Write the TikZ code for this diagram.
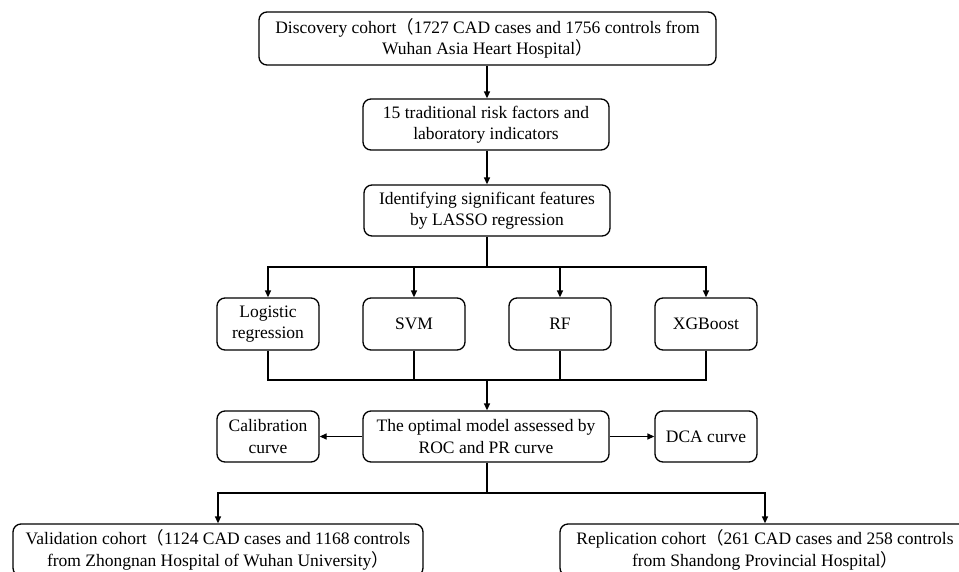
\documentclass[tikz,border=0pt]{standalone}
\usepackage{fontspec}
\setmainfont{Liberation Serif}
\newfontfamily\cjk{Noto Sans CJK SC}
\usetikzlibrary{arrows.meta}
\newcommand{\lp}{{\cjk （}}
\newcommand{\rp}{{\cjk ）}}
\begin{document}
\begin{tikzpicture}[x=1pt,y=-1pt,
  box/.style={draw, line width=1.3pt, rounded corners=8pt, align=center, inner sep=0pt,
    font=\fontsize{17.5}{21.5}\selectfont},
  wide/.style={box, minimum width=246pt, minimum height=51pt},
  small/.style={box, minimum width=102pt, minimum height=52pt},
  arr/.style={-{Triangle[length=7pt,width=6pt]}, line width=1.3pt},
  ln/.style={line width=1.3pt}]
\useasboundingbox (0,0) rectangle (959,571);
\clip (0,0) rectangle (959,571);
\node[box, minimum width=457pt, minimum height=53pt] (top) at (487.5,38.5)
  {Discovery cohort\lp1727 CAD cases and 1756 controls from\\Wuhan Asia Heart Hospital\rp};
\node[wide] (b2) at (486,124.5) {15 traditional risk factors and\\laboratory indicators};
\node[wide] (b3) at (487,210.5) {Identifying significant features\\by LASSO regression};
\node[small] (lr) at (268,324) {Logistic\\regression};
\node[small] (svm) at (414,324) {SVM};
\node[small] (rf) at (560,324) {RF};
\node[small] (xgb) at (706,324) {XGBoost};
\node[wide] (opt) at (486,436.5) {The optimal model assessed by\\ROC and PR curve};
\node[small, minimum height=51pt] (cal) at (268,436.5) {Calibration\\curve};
\node[small, minimum height=51pt] (dca) at (706,436.5) {DCA curve};
\node[box, minimum width=410pt, minimum height=52pt] (val) at (218,550)
  {Validation cohort\lp1124 CAD cases and 1168 controls\\from Zhongnan Hospital of Wuhan University\rp};
\node[box, minimum width=410pt, minimum height=52pt] (rep) at (765,550)
  {Replication cohort\lp261 CAD cases and 258 controls\\from Shandong Provincial Hospital\rp};
\coordinate (br) at (487,267);
\coordinate (mg) at (487,380);
\coordinate (bb) at (487,493);
\draw[arr] (top.south -| 487,0) -- (b2.north -| 487,0);
\draw[arr] (b2.south -| 487,0) -- (b3.north -| 487,0);
\draw[ln] (b3.south -| br) -- (br);
\foreach \n in {lr,svm,rf,xgb} {\draw[arr] (br) -| (\n.north);}
\foreach \n in {lr,svm,rf,xgb} {\draw[ln] (\n.south) |- (mg);}
\draw[arr] (mg) -- (opt.north -| mg);
\draw[arr] (opt.west) -- (cal.east);
\draw[arr] (opt.east) -- (dca.west);
\draw[ln] (opt.south -| bb) -- (bb);
\draw[arr] (bb) -| (val.north);
\draw[arr] (bb) -| (rep.north);
\end{tikzpicture}
\end{document}
